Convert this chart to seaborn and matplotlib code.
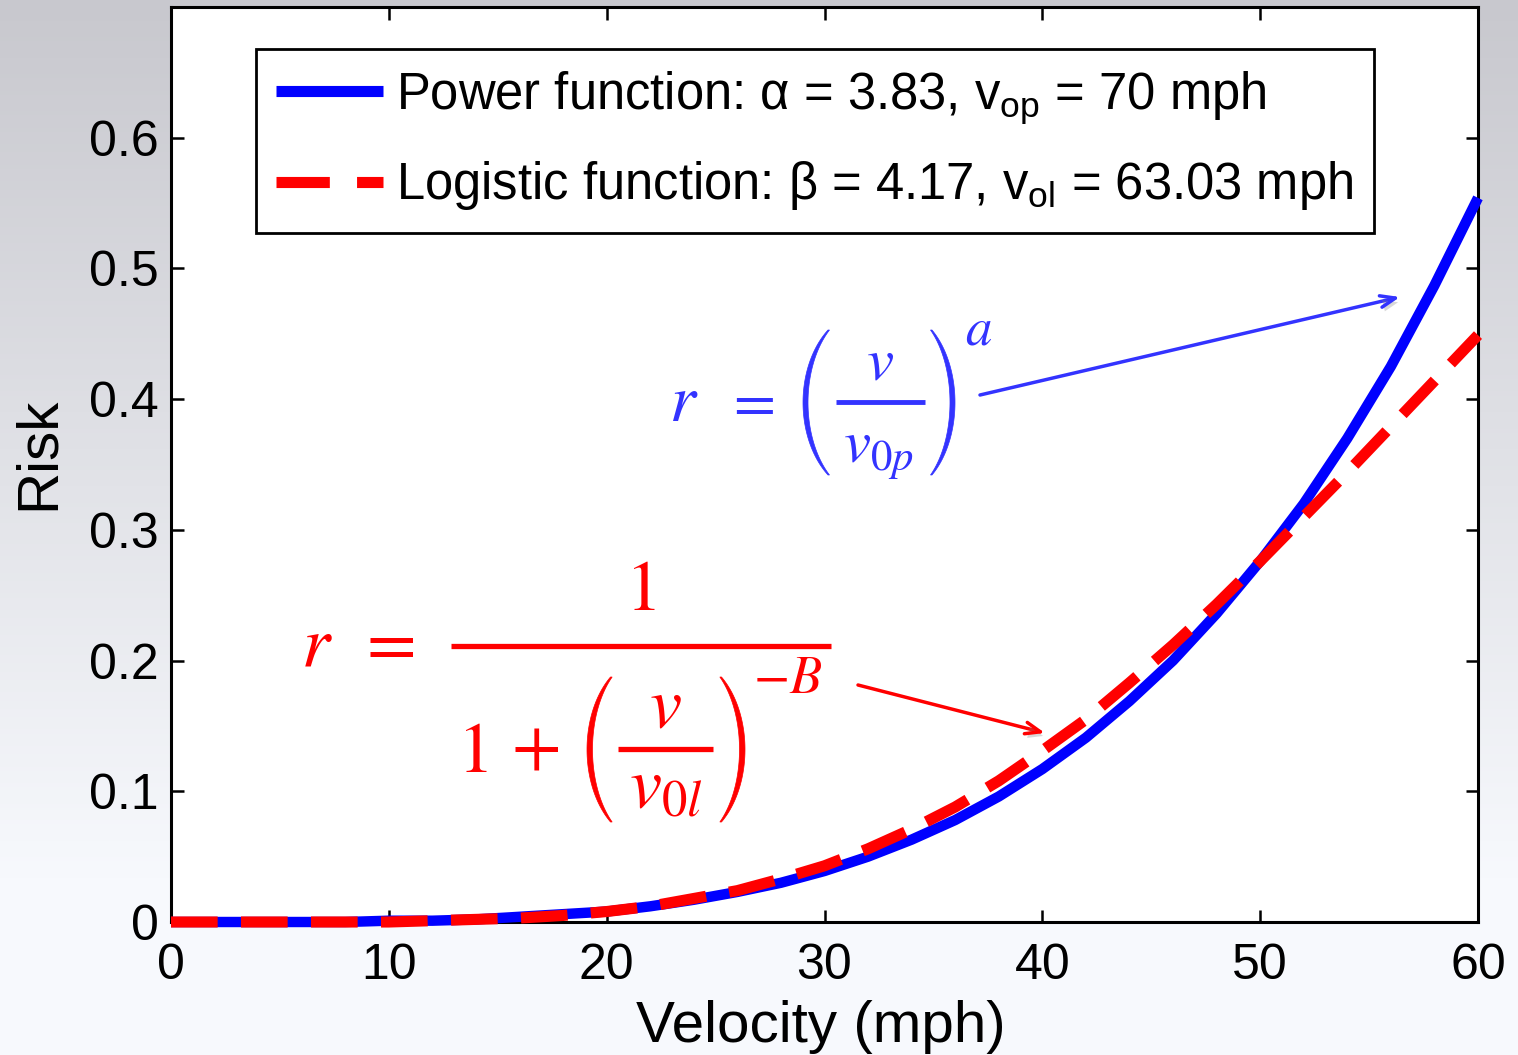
import numpy as np
import pandas as pd
import matplotlib
matplotlib.use("Agg")
import matplotlib.pyplot as plt
import matplotlib.patheffects as pe
from matplotlib.transforms import IdentityTransform
from matplotlib.patches import Polygon
from matplotlib.lines import Line2D
import seaborn as sns

# ---- data ----
velocity = [0, 2, 4, 6, 8, 10, 12, 14, 16, 18, 20, 22, 24, 26, 28, 30,
            32, 34, 36, 38, 40, 42, 44, 46, 48, 50, 52, 54, 56, 58, 60]
power_risk = [0, 0, 0, 0, 0, 0.001, 0.001, 0.002, 0.004, 0.006, 0.008, 0.012,
              0.017, 0.023, 0.030, 0.039, 0.050, 0.063, 0.078, 0.096, 0.117,
              0.141, 0.169, 0.200, 0.236, 0.276, 0.320, 0.370, 0.425, 0.487, 0.554]
logistic_risk = [0, 0, 0, 0, 0, 0.0, 0.001, 0.002, 0.003, 0.005, 0.008, 0.012,
                 0.018, 0.024, 0.033, 0.043, 0.056, 0.071, 0.088, 0.108, 0.131,
                 0.155, 0.183, 0.212, 0.243, 0.276, 0.310, 0.344, 0.379, 0.414, 0.449]
power_label = "Power function: α = 3.83, v$_{\\mathrm{op}}$ = 70 mph"
logistic_label = "Logistic function: β = 4.17, v$_{\\mathrm{ol}}$ = 63.03 mph"
x_ticks = [0, 10, 20, 30, 40, 50, 60]
y_ticks = [0, 0.1, 0.2, 0.3, 0.4, 0.5, 0.6]
y_ticklabels = ["0", "0.1", "0.2", "0.3", "0.4", "0.5", "0.6"]

sns.set_theme(style="ticks")
plt.rcParams["font.family"] = ["Liberation Sans", "DejaVu Sans"]
plt.rcParams["mathtext.fontset"] = "custom"
plt.rcParams["mathtext.rm"] = "Liberation Sans"
plt.rcParams["mathtext.it"] = "Liberation Sans:italic"
plt.rcParams["text.color"] = "black"

W, H = 1518, 1055
fig = plt.figure(figsize=(W / 100, H / 100), dpi=100)

# gradient background
bg = fig.add_axes([0, 0, 1, 1], zorder=-10)
top = np.array([200, 200, 206]) / 255.0
bot = np.array([247, 249, 253]) / 255.0
t = np.linspace(0, 1, 256)[:, None]
t = np.clip(t * 1.2, 0, 1)
grad = top[None, None, :] * (1 - t[..., None]) + bot[None, None, :] * t[..., None]
grad = np.repeat(grad, 2, axis=1)
bg.imshow(grad, aspect="auto", extent=[0, 1, 0, 1])
bg.set_axis_off()

L, R, B, T = 171, 1478, 922, 7
ax = fig.add_axes([L / W, 1 - B / H, (R - L) / W, (B - T) / H])
ax.set_facecolor("white")

df = pd.DataFrame({"Velocity": velocity, "Power": power_risk, "Logistic": logistic_risk})
sns.lineplot(data=df, x="Velocity", y="Power", ax=ax, color="#0000ff", lw=7.5,
             label=power_label, clip_on=False, zorder=3)
sns.lineplot(data=df, x="Velocity", y="Logistic", ax=ax, color="#ff0000", lw=8,
             label=logistic_label, clip_on=False, zorder=3.1)
ax.lines[0].set_solid_capstyle("butt")
ax.lines[1].set_dashes([4.2, 2.1])
ax.lines[1].set_dash_capstyle("butt")

ax.set_xlim(0, 60)
ax.set_ylim(0, 0.7)
ax.set_xticks(x_ticks)
ax.set_yticks(y_ticks)
ax.set_yticklabels(y_ticklabels)
ax.tick_params(direction="in", length=9, width=1.8, top=True, right=True,
               labelsize=36, colors="black")
ax.tick_params(axis="x", pad=15)
ax.tick_params(axis="y", pad=9)
for s in ax.spines.values():
    s.set_linewidth(2.2)
    s.set_color("black")

ax.set_xlabel("Velocity (mph)", fontsize=42, color="black")
ax.set_ylabel("Risk", fontsize=42, color="black")
ax.xaxis.set_label_coords((821 - L) / (R - L), (B - 1000) / (B - T))
ax.yaxis.set_label_coords((66 - L) / (R - L), (B - 453) / (B - T))

leg = ax.legend(loc="upper left",
                bbox_to_anchor=((256 - L) / (R - L), (B - 49) / (B - T)),
                fontsize=36.5, frameon=True, fancybox=False, edgecolor="black",
                framealpha=1, handlelength=2.1, handletextpad=0.26,
                labelspacing=0.66, borderpad=0.4, borderaxespad=0)
leg.get_frame().set_linewidth(2.0)
leg.set_zorder(5)
for ln in leg.get_lines():
    ln.set_linewidth(8)
    ln.set_solid_capstyle("butt")
leg.get_lines()[1].set_dashes([4.8, 2.45])
for tx in leg.get_texts():
    tx.set_color("black")

# ---- formulas, composed from pieces (pixel positions, top-left origin) ----
def fp(x, y):
    return (x / W, 1 - y / H)

def mtext(x, y, s, size, color, ha="center", va="baseline"):
    fig.text(*fp(x, y), s, fontsize=size, color=color, ha=ha, va=va,
             math_fontfamily="stix")

def hbar(x0, x1, y, color, lw):
    fig.add_artist(Line2D([x0, x1], [H - y, H - y], color=color, lw=lw,
                          transform=IdentityTransform(), solid_capstyle="butt"))

def paren(xl, xr, yt, yb, left, color, thick):
    s = np.linspace(-1, 1, 60)
    phi = np.deg2rad(52)
    ymid, h = (yt + yb) / 2, (yb - yt) / 2
    ry = h / np.sin(phi)
    span = (xr - xl) - thick
    rx = span / (1 - np.cos(phi))
    th = np.pi + phi * s
    thickness = thick * (0.3 + 0.7 * (1 - s ** 2))
    if left:
        xc = xl + rx
        xo = xc + rx * np.cos(th)
        xi = xo + thickness
    else:
        xc = xr - rx
        xo = xc - rx * np.cos(th)
        xi = xo - thickness
    yy = ymid + ry * np.sin(th)
    pts = np.concatenate([np.column_stack([xo, H - yy]),
                          np.column_stack([xi[::-1], H - yy[::-1]])])
    fig.add_artist(Polygon(pts, closed=True, facecolor=color, edgecolor=color,
                           lw=0.5, transform=IdentityTransform()))

blue_c = "#3333ff"
bs = 44
mtext(684, 421, r"$r$", 48, blue_c)
mtext(750, 419, r"$=$", bs, blue_c)
paren(803, 833, 330, 475, True, blue_c, 5)
hbar(836, 925, 402, blue_c, 3.5)
mtext(880, 380, r"$v$", bs, blue_c)
mtext(878, 462, r"$v_{0p}$", bs, blue_c)
paren(927, 955, 330, 475, False, blue_c, 5)
mtext(979, 345, r"$a$", 38, blue_c)

red_c = "#ff0000"
rs = 52
mtext(317, 665, r"$r$", rs, red_c)
mtext(385, 664, r"$=$", rs, red_c)
mtext(640, 610, r"$1$", rs, red_c)
hbar(451, 831, 646, red_c, 3.8)
mtext(472, 772, r"$1$", rs, red_c)
mtext(535, 767, r"$+$", rs, red_c)
paren(587, 616, 677, 822, True, red_c, 5.5)
hbar(618, 713, 749, red_c, 3.8)
mtext(665, 727, r"$v$", rs, red_c)
mtext(666, 807, r"$v_{0l}$", rs, red_c)
paren(716, 745, 677, 822, False, red_c, 5.5)
mtext(788, 693, r"$-B$", 38, red_c)

def px(x, y):
    return ((x - L) / (R - L), (B - y) / (B - T))

a1 = ax.annotate("", xy=px(1400, 297), xytext=px(980, 395), xycoords="axes fraction",
                 textcoords="axes fraction",
                 arrowprops=dict(arrowstyle="->,head_length=0.9,head_width=0.35",
                                 color=blue_c, lw=2.5, shrinkA=0, shrinkB=0))
a1.arrow_patch.set_path_effects([pe.withSimplePatchShadow(offset=(2, -3),
                                 shadow_rgbFace="gray", alpha=0.3)])
a2 = ax.annotate("", xy=px(1045, 733), xytext=px(858, 685), xycoords="axes fraction",
                 textcoords="axes fraction",
                 arrowprops=dict(arrowstyle="->,head_length=0.9,head_width=0.35",
                                 color=red_c, lw=2.5, shrinkA=0, shrinkB=0))
a2.arrow_patch.set_path_effects([pe.withSimplePatchShadow(offset=(2, -3),
                                 shadow_rgbFace="gray", alpha=0.3)])

fig.savefig("out.png", dpi=100)
